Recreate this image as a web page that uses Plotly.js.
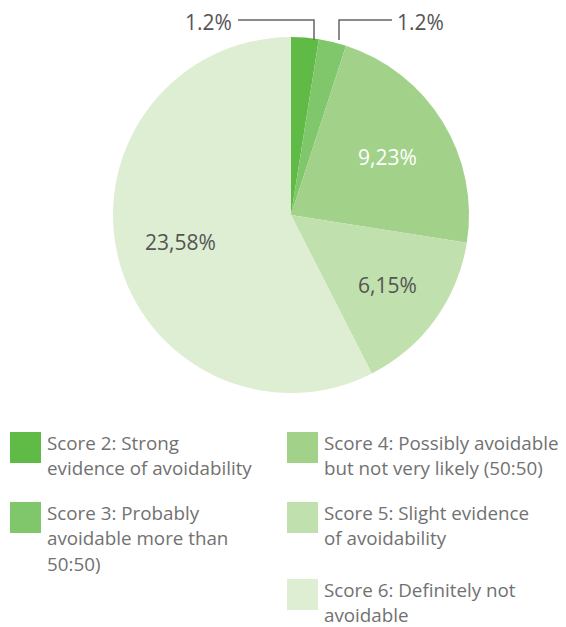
<!DOCTYPE html>
<html><head><meta charset="utf-8">
<script src="https://cdn.plot.ly/plotly-3.0.1.min.js"></script>
<style>body{margin:0;background:#fff}#chart{width:566px;height:627px}</style>
</head><body><div id="chart"></div>
<script>
// Data
var categories = ["Score 2: Strong evidence of avoidability",
  "Score 3: Probably avoidable more than 50:50)",
  "Score 4: Possibly avoidable but not very likely (50:50)",
  "Score 5: Slight evidence of avoidability",
  "Score 6: Definitely not avoidable"];
var legendLines = [["Score 2: Strong", "evidence of avoidability"],
  ["Score 3: Probably", "avoidable more than", "50:50)"],
  ["Score 4: Possibly avoidable", "but not very likely (50:50)"],
  ["Score 5: Slight evidence", "of avoidability"],
  ["Score 6: Definitely not", "avoidable"]];
var values = [1, 1, 9, 6, 23];
var sliceLabels = ["1.2%", "1.2%", "9,23%", "6,15%", "23,58%"];
var colors = ["#5fbb46", "#80c66b", "#a2d18a", "#c0e0ad", "#ddeed3"];

var W = 566, H = 627;
function px(x){return x/W;}
function py(y){return 1 - y/H;}

var font = "'Open Sans', 'Noto Sans', sans-serif";
var trace = {
  type: "pie", values: values, labels: categories, sort: false,
  direction: "clockwise", rotation: 0,
  marker: {colors: colors, line: {width: 0}},
  textinfo: "none", hoverinfo: "label+value", showlegend: false,
  domain: {x: [px(113), px(469)], y: [py(393), py(37)]}
};

// label positions / styles (layout only)
var labelPos = [
  {x: 234, y: 22, xanchor: "right", color: "#555555"},
  {x: 395, y: 22, xanchor: "left", color: "#555555"},
  {x: 387, y: 157, xanchor: "center", color: "#ffffff"},
  {x: 387, y: 285, xanchor: "center", color: "#555555"},
  {x: 180, y: 242, xanchor: "center", color: "#555555"}
];
var annotations = [];
sliceLabels.forEach(function(t, i){
  var p = labelPos[i];
  annotations.push({xref:"paper", yref:"paper", x: px(p.x), y: py(p.y),
    xanchor: p.xanchor, yanchor: "middle", text: t, showarrow: false,
    font: {family: font, size: 21, color: p.color}});
});
function pathPx(pts){
  return pts.map(function(p,i){return (i?"L":"M")+px(p[0])+","+py(p[1]);}).join(" ");
}
var shapes = [
  {type:"path", xref:"paper", yref:"paper", path: pathPx([[238,20],[314,20],[314,40]]), line:{color:"#666666", width:1.5}},
  {type:"path", xref:"paper", yref:"paper", path: pathPx([[339,40],[339,20],[392,20]]), line:{color:"#666666", width:1.5}}
];
// legend
var legPos = [[10,432],[10,502],[287,432],[287,502],[287,579]];
categories.forEach(function(c, i){
  var p = legPos[i];
  shapes.push({type:"rect", xref:"paper", yref:"paper",
    x0: px(p[0]), x1: px(p[0]+31), y0: py(p[1]+31), y1: py(p[1]),
    fillcolor: colors[i], line:{width:0}});
  legendLines[i].forEach(function(line, j){
    annotations.push({xref:"paper", yref:"paper", x: px(p[0]+36), y: py(p[1]+10.5 + j*25.5),
      xanchor:"left", yanchor:"middle", align:"left", text: line, showarrow:false,
      borderpad: 0, font:{family: font, size: 18.8, color:"#717171"}});
  });
});

var layout = {width: W, height: H, margin:{l:0,r:0,t:0,b:0},
  paper_bgcolor:"#ffffff", showlegend:false, annotations: annotations, shapes: shapes};
Plotly.newPlot("chart", [trace], layout, {displayModeBar:false, staticPlot:true});
</script></body></html>
